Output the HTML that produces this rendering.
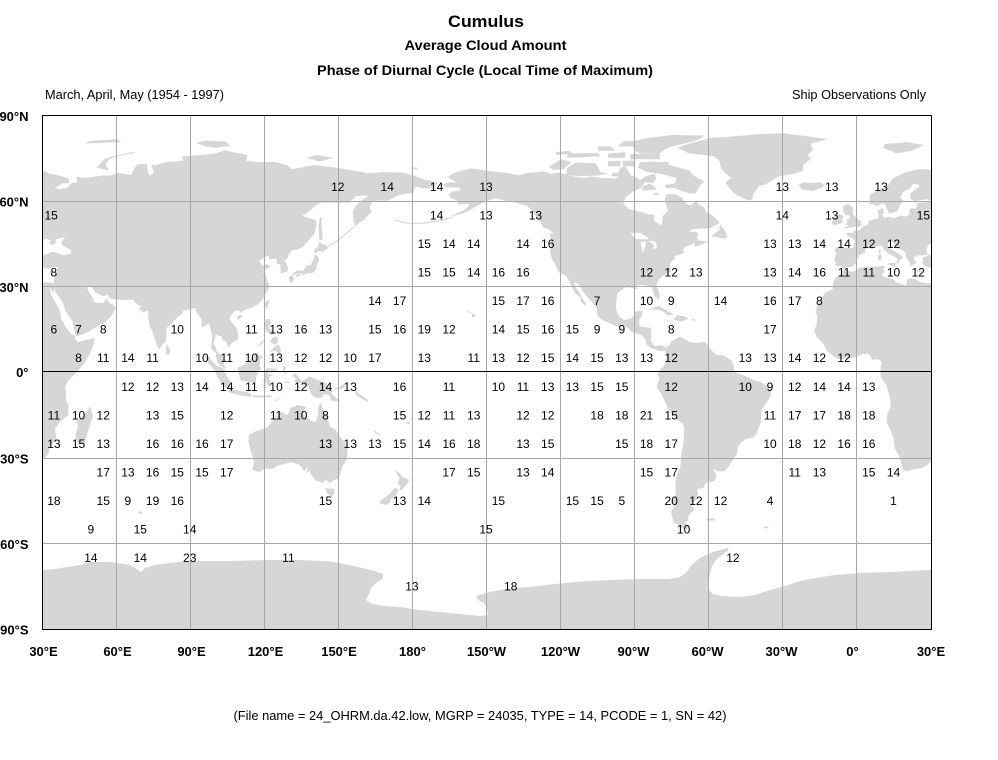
<!DOCTYPE html>
<html><head><meta charset="utf-8"><style>
html,body{margin:0;padding:0;background:#fff;width:998px;height:760px;overflow:hidden}
svg{display:block}
text{font-family:"Liberation Sans",Arial,sans-serif;fill:#000}
.n text{font-size:12px;text-anchor:middle}
.ax{font-size:13px;font-weight:bold}
</style></head><body>
<svg width="998" height="760" viewBox="0 0 998 760" xmlns="http://www.w3.org/2000/svg" xmlns:xlink="http://www.w3.org/1999/xlink">
<rect width="998" height="760" fill="#fff"/>
<defs>
<clipPath id="c"><rect x="42.5" y="115.5" width="889" height="514"/></clipPath>
<g id="land" fill="#d6d6d6">
<g transform="matrix(2.46944 0 0 -2.85556 -31.583 372)">
<!-- Eurasia -->
<polygon points="5,58 5,62 8,63.5 10,64 13,66 14,67.5 16,68.5 19,69.8 21,70.2 25,71 28,71 31,70.3 33,69.4 36,69 40.5,67.8 41,66.2 38,66 35,64.5 37,64 40,64.5 42,66.3 44,66.3 44,68.5 46,68 50,68.3 54,68.8 58,68.8 60,69.8 66,69 67,71 68.5,72.8 72.5,72.8 72.5,71 73.5,68.5 75,70 74,72.5 76,72.5 80.5,73.6 87,74 86.5,75.5 94,76 100,76.5 104,77.7 107,77 113,76 112.5,74 118,73.5 124,73.6 129,72.5 131,71 140,72.5 150,71.5 153,70.9 160,70 161,69.5 168,70 176,69.8 180,68.9 185,67.3 188,66.9 190.3,66 187,64.5 184,64.3 181,65 180,62.5 177,62.5 174,61.8 170,60 166,60 163.5,59.9 163,58.5 162.5,57.5 163.2,56 162,55 160,53 158.5,52.5 156.7,50.9 156,53 155.6,56 156.5,57.8 159,60 162,61.7 160,61.8 157,61.6 154,59.3 151,59.3 148,59.3 143,59.3 141,58.5 138,56.3 135.2,54.7 137.5,54 140.5,53.3 141,52 140.5,50 140,48.3 138.5,46.8 135.5,43.8 133,42.8 131,42.6 129.7,41 129.3,40 128,39 129.4,37 129.3,35.3 127,34.6 126.3,34.7 126.5,36 126.2,37.7 125,37.8 124.7,39.8 122,39.5 121.2,40.9 119.5,39.8 117.8,39 118.5,38 119,37.2 120.8,37.8 122.5,37 120.5,36 119.3,35 120.3,34.3 121,32 121.9,30.9 121.5,29 120.2,27 119.3,25.5 117,23.6 114.3,22.4 111.3,21.5 110,20.8 109.8,21.5 108,21.5 106.6,20.2 105.7,18.8 106.5,17.5 108.8,15.2 109.3,12.5 109,11.3 107,10.4 105.2,8.6 104.8,9.8 104.5,10.4 103,11.2 102.5,12.5 101,12.7 100,13.4 100,12 99.2,10 100.2,8.5 100.5,7.2 101.3,6.8 102.8,5.5 103.4,4 103.5,2.5 104.3,1.4 103.5,1.3 101.3,2.8 100.3,5 100.3,6.5 98.3,8.3 98.5,10 98.7,12.5 97.7,16.5 97,16.9 95.3,15.8 94.2,16.1 94.5,18.3 93.5,19.5 92,21.5 91.8,22.5 90.5,22 89,21.8 87,21.5 86.8,20.5 85,19.5 82.3,17 80.3,15.5 80.2,13 79.8,10.5 79.3,10.3 78,8.9 77.5,8.1 76.5,8.9 75.5,11.5 74.4,14.5 73.5,16 72.8,19 72.8,21 72.6,21.5 70.5,20.8 69,22.4 70.3,22.9 68.6,23.6 67.3,24.5 66.7,25.4 64.5,25.2 61.6,25.2 59,25.5 57.3,25.8 56.5,27.1 54.7,26.5 51.4,27.9 50.3,29.3 49,30.1 48,30 48.5,28.4 49.5,27.1 50.2,26.2 50.8,24.8 51.6,24.2 52.5,24.2 54.5,24.2 55.8,25.4 56.4,26.4 56.3,24.9 57.7,23.8 58.8,23.5 59.8,22.5 58.6,20.8 57.8,19.5 56.8,18.6 55.3,17.4 52.2,16 49,14.2 45,12.8 43.5,12.6 42.7,15.5 42.3,17.5 40.8,19.5 39.2,21.5 38.5,23.8 37.3,25.5 35.2,28 34.9,29.5 34.5,31.5 35,33 35.9,35 36,36.7 34.6,36.8 32.5,36.1 30.5,36.5 29,36.6 27.3,37 26.3,38.3 26.5,39.5 26.2,40 27.5,40.3 29,41 31.3,41.1 33.5,42 35.2,42 38.3,40.9 41.5,41.5 41.7,42.6 40,43.4 38,44.5 37.5,45.3 38.5,46.5 39.3,47.2 37,46.9 35.2,46.3 35.6,45.4 34.5,44.6 33.5,44.5 32.6,45.4 33.5,46 31.7,46.6 30.7,46.5 30,45.2 28.7,44.5 28,43 28,41.9 29,41.2 26.3,40.9 24,40.8 23.5,40.2 22.6,40.5 23.2,39 24,38.2 22.5,37.5 21.6,36.8 21.2,38.3 20.2,39.6 19.4,40.4 19.5,41.8 18.5,42.5 16,43.5 14.5,45.2 13.7,45.7 12.3,45.3 12.4,44.2 13.9,42.8 16,41.9 18.5,40.2 17,39 16.5,38 15.7,38 16.2,39.4 15.6,40.1 14,40.8 12.5,41.5 11,42.5 10.1,43.9 8.7,44.4 7.5,43.8 6,43.1 4.5,43.5 3.1,43 3.2,41.9 0.8,41 0,39.8 -0.4,38.4 -1.6,37.3 -2.1,36.7 -4.4,36.7 -5.6,36 -6.3,36.8 -7.4,37.2 -8.9,37 -8.8,38.7 -9.5,39 -8.7,41.5 -9.3,43 -8,43.7 -5,43.5 -1.8,43.4 -1.3,44.5 -1.2,46 -2.2,47.1 -4.5,47.9 -4.7,48.6 -3,48.8 -1.4,48.7 -1.6,49.6 0.2,49.5 1.5,50.2 2.5,51.1 4,51.5 4.8,53 7,53.5 8.5,53.8 8.6,55 8.1,56.5 9.5,57.1 10.5,57.6 10.3,56.3 10.9,56.2 10,55 11,54 12.5,54.4 14.5,53.9 18,54.8 19.6,54.4 21.2,55.2 21,56.8 22,57.5 23.5,57 24.4,58.4 23.5,59.2 28,59.5 29.5,60 28,60.5 22.9,59.8 21.3,60.9 21.5,62.7 25.2,65 24.5,65.8 22.5,65.8 21.3,64.3 18.5,63 17.3,61 18.8,60 17.4,58.8 16.5,57 15.8,56.1 12.8,55.5 11,58.9 10,59 8,58.1 5.6,58.9"/>
<!-- Africa -->
<polygon points="-5.9,35.8 -2,35.1 1,36.5 3,36.8 8,36.9 10.2,37.2 11,37 10.5,36 11,35.2 10,34.2 10.2,33.5 11.5,33.1 15,32.3 15.5,31.5 18,30.8 19.5,30.3 20.1,31 20,32 21,32.8 23,32.6 25,31.7 29,30.9 31,31.5 32.3,31.3 34.2,31.3 34.9,29.5 34.3,27.8 32.6,29.9 33.5,27 35.5,23.9 37.2,21 37.4,18.5 38.5,17.5 39.5,15.5 41.5,13.5 43.3,12.5 43.2,11.5 44.5,10.4 47,11.1 51.2,11.9 51,10.4 49.5,7 48,4.5 46,2 43.5,-0.5 41.5,-2 40,-3.5 39.2,-5.5 39.5,-7 39.5,-10 40.5,-11.5 40.5,-15 37,-17.5 35,-20 35.5,-22 35.5,-24 33,-25.8 32.5,-28.5 31,-30 28,-32.8 25.5,-33.8 22,-34.2 20,-34.8 18.4,-34.2 18,-32.5 17,-29.5 15.2,-27 14.5,-23 13.5,-20.5 11.8,-17.5 12,-15 13.5,-12 13.2,-9 12.2,-6 12,-5 9.5,-2 9.3,0.5 9.8,3.5 8.5,4.5 6,4.3 4.5,6.3 2,6.3 -1,5 -3,5 -7.5,4.4 -9.5,5.5 -12.5,7.5 -13.5,9.5 -15,11 -16.7,12.5 -17.5,14.7 -16.5,16.5 -16.3,19.5 -17,21 -16,23.5 -14.5,26 -13,27.8 -10,29 -9.8,31.5 -8.5,33.3 -6.8,34.1"/>
<polygon points="49.3,-12 50.5,-15.5 49.8,-17 48.5,-20.5 47.1,-24.9 45,-25.5 43.6,-23.5 43.3,-21.8 44.4,-19.5 44,-17 46.3,-15.7 48,-14"/>
<!-- Europe islands -->
<polygon points="-5.7,50.1 -3,50.6 1.4,51.1 1.7,52.7 0.3,53.5 -1.5,55 -2,55.9 -1.8,57.6 -3.5,58.6 -5,58.6 -6,57.5 -5.6,56 -4.9,55 -3,54.8 -3.3,53.6 -4.6,53.3 -4,52.5 -5,51.7 -3.5,51.4"/>
<polygon points="-6,52.2 -6.1,53.8 -5.6,54.6 -7.2,55.3 -8.5,54.9 -10,54 -10.4,52 -9.5,51.5 -8,51.7"/>
<polygon points="-24,65.5 -22,66.4 -18,66.2 -15,66.5 -13.5,65.5 -14.5,64.4 -18,63.4 -21,63.8 -22.5,64"/>
<polygon points="10.5,78.5 16,76.5 22,77.5 27,79.5 20,80.5 11,79.8"/>
<polygon points="47,80 62,80.5 60,81.5 50,81"/>
<polygon points="52,71.5 57,70.6 55.5,72.5 57,74.5 62,76 68.5,76.8 66,77 59,75.7 55,74.5 53.5,73"/>
<polygon points="96,79 100,78.5 106,79.2 104,80.7 96,81 92,80.3"/>
<polygon points="137,75 142,73.7 148,75 141,76"/>
<polygon points="179,71.3 182,71 181.5,71.6 178.5,71.5"/>
<polygon points="12.4,38.1 15.6,38.3 15.1,36.7 12.5,37.6"/>
<polygon points="8.4,41 9.8,41 9.6,39.2 8.4,39"/>
<polygon points="8.6,43 9.5,42.8 9.3,41.4 8.7,41.6"/>
<polygon points="23.5,35.5 26.3,35.2 24.5,34.9"/>
<polygon points="32.3,35 34.5,35.6 33.5,34.6"/>
<!-- Asia islands -->
<polygon points="79.8,6.1 80.3,9.8 81.8,7.5 81.3,6.2"/>
<polygon points="130.9,34 131.9,34.7 133,35.5 135.8,35.6 136.8,37.2 138.5,37.5 140,39.7 140,41.2 141.5,40.5 142,39 141,37.5 140.8,35.7 139.8,35 138.8,34.6 137,34.6 135.2,33.7 135.2,34.6 133,34.3 131.5,33.9"/>
<polygon points="129.7,33.2 130.2,31.2 131.3,31.4 131.9,33 131,33.9"/>
<polygon points="132.5,33.3 134.8,33.8 134.2,34.3 132.7,34"/>
<polygon points="140,41.5 141,41.8 141.8,42.6 143.3,42 145.5,43.3 145,44.2 142,45.5 141.5,43.5 140.3,43.2"/>
<polygon points="142,46 143.5,46.5 143.2,49.5 143,52 143,54.3 142.3,54.2 141.8,51 142,48"/>
<polygon points="145.5,43.6 150,46 154,49 156.5,50.8 156.3,51.1 153.8,49.4 149.8,46.4 145.3,43.9"/>
<polygon points="172.5,53 178,51.9 184,51.9 190,52.6 196,54 196,54.4 190,53.1 184,52.3 178,52.3 172.5,53.4"/>
<polygon points="120.1,23 120.8,21.9 121.8,24.5 121.5,25.3 120.3,24.3"/>
<polygon points="108.6,19.2 110,20.1 111,19.6 109.5,18.2"/>
<polygon points="120.5,18.5 122.2,18.5 122.4,17 121.5,15.5 124,14 123,13 120.6,14.2 119.8,16.3"/>
<polygon points="122,7 124,7.5 126.2,6.3 126.5,8 125.5,9.7 123.5,8.5"/>
<polygon points="122,10.5 124.5,9.5 125.5,11 125,12.5 123,11.8"/>
<polygon points="117.2,8.4 119.5,10.5 119.3,11.3 117.5,9.2"/>
<polygon points="109,1.5 109.5,-1 110.3,-3 114,-3.5 116.3,-3.9 116.5,-2 117.5,0.5 118.8,1 117.9,2 118.2,4.6 119.2,5.2 117.7,6 116.7,7 115.5,5.3 114,4.5 111.5,2.5 110,1.8"/>
<polygon points="95.3,5.6 97.5,5.2 100.3,2.3 103.8,1 104.5,-1.5 106,-3.2 105.9,-5.8 104.5,-5.9 102.3,-4 100.8,-1.5 98.7,1.7 97.2,3.1"/>
<polygon points="105.2,-6.8 106,-5.9 108.5,-6.3 110.5,-6.8 112.7,-6.9 114.5,-7.8 114.4,-8.7 110,-8.2 106.4,-7.4"/>
<polygon points="115.2,-8.1 119,-8.3 122.8,-8.2 122.8,-8.9 119,-8.9 115.2,-8.8"/>
<polygon points="124,-9.9 127.2,-8.4 126.5,-8.9 124,-10.4"/>
<polygon points="119.4,-5.5 120.4,-5.6 120.4,-2.8 121.3,-4.9 122.8,-4.8 121.6,-1.9 123.4,-0.9 121.3,-0.8 120.6,0.5 124.5,0.5 125.2,1.6 124.3,1.2 120.8,1.3 119.8,0 119.5,-3.5"/>
<polygon points="127.5,2.2 128.7,1.5 128,0.5 128.9,-0.8 127.7,-0.3 127.3,1"/>
<polygon points="128,-3.3 130.8,-3.5 130,-3.9 128.2,-3.8"/>
<polygon points="131,-1.2 132.5,-0.4 135,-3.3 138,-1.6 141,-2.6 144.5,-3.8 146,-5.5 147.5,-6.2 147,-7.5 148.5,-8.8 150.8,-10.3 149,-10.3 147,-10 146,-8 144,-7.7 143,-9 141,-9.1 139,-8.1 137.8,-5.3 134.5,-3.9 132.8,-4 131.9,-2.9 133,-2.3 131.3,-1.5"/>
<polygon points="148.3,-5.6 150,-5.5 152,-4.2 152.3,-5 151,-6.1 148.3,-6"/>
<polygon points="156.5,-6.5 158,-7.5 160.5,-9 161.5,-9.6 162,-10.5 161,-10.2 159,-9.2 157,-8 156.5,-7"/>
<polygon points="164,-20.2 166.5,-21.8 167,-22.4 166.2,-22.3 164.1,-20.7"/>
<polygon points="177.2,-17.5 178.6,-17.3 178.5,-18.2 177.3,-18.1"/>
<polygon points="178.8,-16.3 180,-16.2 179.4,-16.9"/>
<!-- Australia / NZ -->
<polygon points="113.5,-22 114.2,-21.8 116.7,-20.6 119,-20 121,-19.5 122.3,-18 123.5,-17 125.5,-14.5 127,-13.8 128.2,-15 129.6,-14.9 130.2,-13 131.3,-12.1 132.6,-12.1 132.6,-11.5 136,-11.9 136.8,-12.3 135.9,-13.5 135.5,-14.8 137,-15.8 139.2,-17.3 140.6,-17.5 141.5,-15 141.6,-12.6 142.5,-10.7 143.5,-12.8 144.5,-14.3 145.4,-15 146.1,-18.9 148.8,-20.3 150.2,-22.3 153.2,-25.5 153.6,-28.5 153,-31 151.5,-33 150,-37.4 148,-37.8 146.3,-39 144.9,-37.8 143.5,-38.8 140.6,-38 139.7,-37 138.5,-35.6 138.1,-34 137.8,-35 136.8,-35.2 137.8,-33 135.9,-34.8 135,-33.5 134.2,-32.6 131,-31.5 128,-32.2 125,-32.9 123.5,-33.9 120,-33.9 117.9,-35.1 115,-34.3 115.7,-31.5 115,-29.5 114,-26.5 113.4,-24.5"/>
<polygon points="144.6,-40.7 148.3,-40.9 148,-43 146.8,-43.6 145.2,-42.3"/>
<polygon points="172.7,-34.4 174.5,-35.3 175.8,-36.8 178.5,-37.7 177.9,-39.1 176.8,-40 175.2,-41.6 174.6,-41.2 175,-39.9 173.8,-39.2 174.6,-37.3"/>
<polygon points="172.7,-40.5 174.3,-41.2 173.3,-42.8 172.7,-43.8 171.2,-44.5 170.6,-45.9 169,-46.6 166.5,-46 166.7,-45.2 168.5,-44 170.6,-42.7 171.5,-41.6"/>
<polygon points="69,-48.8 70.5,-49 70,-49.7 68.8,-49.6"/>
<!-- North America -->
<polygon points="-168,65.6 -166,66.3 -164,66.6 -161.8,66.1 -163.7,67.1 -166,68.3 -163,69.8 -156.5,71.3 -152,70.8 -149,70.4 -145,70 -141,69.6 -137,68.9 -134,69.6 -130,70 -127.5,70.3 -124,69.4 -121,69.8 -117,69 -114,68.3 -110,68 -108,68.5 -104,68 -98,67.8 -96,68.3 -94,69 -90,68.5 -88,67.2 -86,68.5 -82,69.5 -81.5,67.5 -83,66.2 -86,66.5 -88,64.2 -90.5,63.5 -94,61 -94.8,59 -92.5,57 -88.5,56.3 -85,55.3 -82.3,55.1 -82.2,52.9 -79.5,51.4 -78.8,52.8 -79,54.5 -76.7,56.5 -77.5,58.5 -78,60.5 -77.5,62.2 -74,62.3 -71,61.1 -69.5,59 -67.5,58.3 -65,60.2 -64.5,58.8 -62,57.5 -61,56 -59,55 -57,53.5 -55.7,52.2 -57.5,51.4 -60,50.2 -64,50.2 -66.5,50 -68.5,49.2 -66,49.1 -64.3,48.6 -65,47.5 -64.5,46.2 -61,45.6 -60,46 -61,45.3 -63.5,44.5 -66,43.8 -66,45.2 -67.5,44.5 -70,43.7 -70.7,42.5 -70,41.8 -71.5,41.3 -74,40.6 -74,39.5 -75.5,38.5 -76,37 -75.5,35.3 -77,34.5 -78.8,33.7 -80.5,32.3 -81.4,30.5 -80.6,28.5 -80,26.5 -80.5,25.2 -81.8,26.2 -82.7,27.8 -82.8,29 -84,30 -86,30.4 -88,30.5 -89.6,30.2 -89.2,29 -90.5,29.2 -92,29.6 -94,29.6 -95.5,28.7 -97.3,27.5 -97.5,25.5 -97.8,22.5 -97.2,20.5 -96,19 -94.5,18.2 -92,18.6 -90.5,19.7 -90.3,21 -88,21.5 -87,21.3 -87.5,19.5 -88.3,18.4 -88.3,16.2 -87,15.8 -84,15.5 -83.3,14.8 -83.5,12 -83.8,11 -82.2,9 -79.5,9.5 -77.4,8.6 -77.8,7.5 -80,7.3 -81.5,7.8 -83.6,8.4 -85.7,9.9 -85.7,11.2 -87.6,13 -89.5,13.5 -91.5,14 -93,15.5 -94.7,16.2 -96.5,15.7 -98.5,16.3 -101.5,17.5 -103.5,18.3 -105.3,19.8 -105.5,21.5 -105.8,22.7 -108,25 -109.5,26.5 -111,28 -112.8,30.5 -114.7,31.7 -114.3,30 -112.7,28 -111.5,26 -110,24 -110,23 -112,24.7 -112.2,26.2 -114.5,27.8 -115.5,29.5 -117.1,32.5 -118.5,34 -120.6,34.6 -121.9,36.6 -122.5,37.8 -123.8,39.8 -124.4,42 -124,46 -124.7,48.4 -123,48.5 -125,50 -127.5,50.8 -128,52 -130,54.3 -131,56 -134,58.3 -136.5,58.8 -139.8,59.7 -143,60 -146.5,60.8 -150,59.8 -151.8,59.2 -153.5,58.5 -156.5,56.8 -159.5,55.6 -162.5,54.9 -164.8,54.4 -162.5,55.5 -160,56.4 -158,57.5 -157,58.7 -159,58.8 -161.8,58.7 -162,60 -164.5,60.8 -165.5,62 -164.3,63.2 -161,63.5 -160.8,64.5 -163.5,64.6 -166.2,64.6"/>
<polygon points="-73,78.5 -68,76.5 -62,76 -58,75.5 -56,74 -55,71 -53.5,69.5 -51,68 -53.5,66.5 -51.5,64 -49,62 -44,60 -42.5,60.5 -42,62.5 -40,65 -37,65.8 -32,68.5 -25,69.5 -22,70.5 -22,72.5 -19,74.5 -20,76 -18,78 -19,80 -12,81.5 -20,82.5 -30,83.6 -40,83.3 -50,82.5 -60,82 -62,81.3 -66,80.5 -70,79.5"/>
<polygon points="-62,66.8 -64,65 -65.5,62.5 -68,62.5 -71.5,63.5 -74,64.5 -77.5,64.3 -78,65.5 -74,66 -73,67.8 -77,68.8 -80,69.5 -85,70 -89,71.5 -88,73.5 -82,73.8 -76,72.5 -72,71.5 -68,70.5 -66.5,69 -64,67.5"/>
<polygon points="-118,69 -117.5,71.5 -114,73.3 -106,73.1 -104,70 -101,69.5 -105,68.8 -112,68.6"/>
<polygon points="-125,71.8 -120,74.5 -116,73.5 -119,71 -123,70.8"/>
<polygon points="-80,76.5 -88,76.5 -90,77.5 -92,80.5 -86,81.8 -75,83 -62,82.8 -64,81.4 -70,80 -75,79 -78,78"/>
<polygon points="-80,74.5 -92,74.5 -92,76.3 -80,76.5"/>
<polygon points="-118,75 -104,75.5 -105,76.7 -117,76.5"/>
<polygon points="-101,72 -96,72 -96,74 -101,73.8"/>
<polygon points="-95,72 -90,72 -90,74 -95,74"/>
<polygon points="-97,79 -87,79 -89,81 -95,80.7"/>
<polygon points="-87,63.5 -81,64 -84,66 -87,65"/>
<polygon points="-101,75 -94,75 -94,77 -101,76.5"/>
<polygon points="-100,68.5 -96,68.5 -96,69.8 -99,69.8"/>
<polygon points="-97,68 -91,68 -92.5,70 -94,72 -96,71.5 -97,69.5"/>
<polygon points="-105,77.5 -98,77.5 -100,79 -105,79"/>
<polygon points="-122,76 -115,76.5 -117,77.5 -122,77"/>
<polygon points="-80,72.7 -76,72.6 -77,73.6 -80,73.5"/>
<polygon points="-83,62.2 -80,62.1 -81.5,62.9"/>
<polygon points="-59.3,47.6 -56,49.7 -55.5,51.6 -53.6,49.3 -52.7,47.5 -53.6,46.6 -55.8,47"/>
<polygon points="-84.9,21.9 -80.5,23.1 -76,21 -74.1,20.2 -77.3,19.9 -77.7,20.7 -80.5,21.8"/>
<polygon points="-74.4,18.5 -72.8,19.9 -69.8,19.5 -68.4,18.6 -71.5,17.7 -74.4,18.3"/>
<polygon points="-78.3,18.4 -76.2,18.1 -76.8,17.8 -78.2,18.2"/>
<polygon points="-67.2,18.5 -65.6,18.4 -65.6,18 -67.2,18"/>
<polygon points="-156,20.5 -155,20.2 -154.8,19.5 -155.8,18.9 -156.1,19.7"/>
<polygon points="-158.3,21.6 -157.6,21.3 -156.5,20.9 -156,20.7 -156.6,20.6 -157.8,21.2"/>
<!-- South America -->
<polygon points="-77.5,8.5 -76,9.4 -75.5,10.7 -74.2,11.2 -72,12.4 -70,11.6 -68,10.5 -65,10.1 -62,10.7 -61,9.8 -60,8.5 -58.5,7 -57,6 -54,5.8 -52,4.6 -51,4 -50,1.8 -50,0 -48.5,-0.5 -45,-1.5 -42,-2.8 -39,-3.5 -37,-5 -35.2,-5.5 -35,-8 -37,-11 -38.9,-13.5 -39,-17.5 -40.8,-21.5 -42,-23 -44.5,-23.3 -47,-24.5 -48.5,-26.5 -48.7,-28.5 -50.5,-31 -52.5,-33.5 -54,-34.8 -56.5,-34.8 -58.4,-34 -57.2,-35.8 -57.5,-38 -61.5,-39 -62.2,-40.5 -65,-41 -64.5,-42.5 -65.5,-45 -67.5,-46.5 -66,-48 -68.5,-50.5 -68.4,-52.3 -70,-52.5 -68.5,-53.5 -68,-54.8 -70,-55 -72,-54 -74.5,-52.5 -75.5,-49 -74,-47 -75.5,-46 -73.5,-43 -73.7,-40.5 -73.5,-37 -71.7,-33 -71.4,-29.5 -70.5,-25 -70.2,-20 -70.5,-18.3 -72.5,-17 -75.5,-14.5 -76.5,-13 -79.5,-7.5 -81.2,-5.5 -81,-4 -80.1,-2.5 -80.9,-1 -80,0.8 -78.8,1.6 -77.5,3.5 -77.3,5.5 -77.9,7.3"/>
<polygon points="-61.2,-51.3 -57.8,-51.3 -57.8,-52 -61.2,-52"/>
<polygon points="-38,-54 -36,-54.2 -36.2,-54.8 -37.8,-54.6"/>
</g>
<g fill="#fff" transform="matrix(2.46944 0 0 -2.85556 -31.583 372)">
<polygon points="-92,48.7 -88,48.8 -85,47.2 -84.5,46.5 -87,46.5 -90,46.6"/>
<polygon points="-87.8,45.5 -87,41.8 -86.2,43 -85.5,45.8 -83,46 -81.5,45.3 -81.2,43.5 -82.5,43 -82.5,44.8 -84.5,45.8"/>
</g>
</g>
</defs>
<g clip-path="url(#c)">
<use xlink:href="#land"/>
<use xlink:href="#land" transform="translate(889,0)"/>
<path fill="#d6d6d6" d="M42,570 L55,569 L67,567 L80,565 L90,562 L110,562 L117,563 L130,565 L137,569 L141,572 L145,568 L155,565 L170,563 L190,561 L230,561 L270,560 L300,560 L330,561.5 L345,564 L360,567.5 L375,571 L383,574 L383,578 L376,583 L371,588 L369,594 L366,600 L372,604 L385,606 L400,607 L420,610 L440,612 L460,614 L480,616 L488,615 L487,608 L484,603 L478,600 L476,596 L483,594 L490,592 L500,590 L515,588 L530,587 L555,584 L575,582 L590,581 L612,580 L640,579 L669,579 L680,577 L686,573 L690,567 L695,562 L700,558 L706,555 L713,552 L720,550 L727,548 L729,550 L722,555 L716,560 L712,566 L710,573 L709,582 L709,590 L713,594 L722,596 L740,597 L755,595 L770,590 L785,586 L800,581 L815,578 L835,575 L860,573 L890,572 L910,571 L932,570 L932,630 L42,630 Z"/>
</g>
<g stroke="#a8a8a8" stroke-width="1" fill="none">
<path d="M116.5,115V629M190.5,115V629M264.5,115V629M338.5,115V629M412.5,115V629M486.5,115V629M560.5,115V629M634.5,115V629M708.5,115V629M782.5,115V629M856.5,115V629"/>
<path d="M42,201.5H931M42,286.5H931M42,458.5H931M42,543.5H931"/>
</g>
<path d="M42,371.5H931" stroke="#000" stroke-width="1"/>
<rect x="42.5" y="115.5" width="889" height="514" fill="none" stroke="#000" stroke-width="1"/>

<text x="486" y="27" font-size="17" font-weight="bold" text-anchor="middle" textLength="76" lengthAdjust="spacingAndGlyphs">Cumulus</text>
<text x="485.5" y="50" font-size="14" font-weight="bold" text-anchor="middle" textLength="162" lengthAdjust="spacingAndGlyphs">Average Cloud Amount</text>
<text x="485" y="75" font-size="14" font-weight="bold" text-anchor="middle" textLength="336" lengthAdjust="spacingAndGlyphs">Phase of Diurnal Cycle (Local Time of Maximum)</text>
<text x="45" y="99" font-size="12.5" textLength="179" lengthAdjust="spacingAndGlyphs">March, April, May (1954 - 1997)</text>
<text x="926" y="99" font-size="12.5" text-anchor="end" textLength="134" lengthAdjust="spacingAndGlyphs">Ship Observations Only</text>
<text x="480" y="720" font-size="12.5" text-anchor="middle" textLength="493" lengthAdjust="spacingAndGlyphs">(File name = 24_OHRM.da.42.low, MGRP = 24035, TYPE = 14, PCODE = 1, SN = 42)</text>

<g class="ax" text-anchor="end">
<text x="28.5" y="121">90°N</text>
<text x="28.5" y="206.5">60°N</text>
<text x="28.5" y="292">30°N</text>
<text x="28.5" y="377">0°</text>
<text x="28.5" y="463.5">30°S</text>
<text x="28.5" y="549">60°S</text>
<text x="28.5" y="634.5">90°S</text>
</g>
<g class="ax" text-anchor="middle">
<text x="43.5" y="656">30°E</text>
<text x="117.5" y="656">60°E</text>
<text x="191.5" y="656">90°E</text>
<text x="265.5" y="656">120°E</text>
<text x="339" y="656">150°E</text>
<text x="412.5" y="656">180°</text>
<text x="486.5" y="656">150°W</text>
<text x="560.5" y="656">120°W</text>
<text x="633.5" y="656">90°W</text>
<text x="707.5" y="656">60°W</text>
<text x="781.5" y="656">30°W</text>
<text x="852.5" y="656">0°</text>
<text x="931" y="656">30°E</text>
</g>

<g class="n">
<text x="337.8" y="190.9">12</text><text x="387.2" y="190.9">14</text><text x="436.6" y="190.9">14</text><text x="486" y="190.9">13</text><text x="782.3" y="190.9">13</text><text x="831.7" y="190.9">13</text><text x="881.1" y="190.9">13</text>

<text x="44.5" y="219.4" style="text-anchor:start">15</text><text x="930" y="219.4" style="text-anchor:end">15</text><text x="436.6" y="219.4">14</text><text x="486" y="219.4">13</text><text x="535.4" y="219.4">13</text><text x="782.3" y="219.4">14</text><text x="831.7" y="219.4">13</text>

<text x="424.3" y="248">15</text><text x="449" y="248">14</text><text x="473.7" y="248">14</text><text x="523" y="248">14</text><text x="547.7" y="248">16</text><text x="770" y="248">13</text><text x="794.7" y="248">13</text><text x="819.4" y="248">14</text><text x="844.1" y="248">14</text><text x="868.8" y="248">12</text><text x="893.5" y="248">12</text>

<text x="53.9" y="276.6">8</text><text x="424.3" y="276.6">15</text><text x="449" y="276.6">15</text><text x="473.7" y="276.6">14</text><text x="498.4" y="276.6">16</text><text x="523" y="276.6">16</text><text x="646.5" y="276.6">12</text><text x="671.2" y="276.6">12</text><text x="695.9" y="276.6">13</text><text x="770" y="276.6">13</text><text x="794.7" y="276.6">14</text><text x="819.4" y="276.6">16</text><text x="844.1" y="276.6">11</text><text x="868.8" y="276.6">11</text><text x="893.5" y="276.6">10</text><text x="918.2" y="276.6">12</text>

<text x="374.9" y="305.1">14</text><text x="399.6" y="305.1">17</text><text x="498.4" y="305.1">15</text><text x="523" y="305.1">17</text><text x="547.7" y="305.1">16</text><text x="597.1" y="305.1">7</text><text x="646.5" y="305.1">10</text><text x="671.2" y="305.1">9</text><text x="720.6" y="305.1">14</text><text x="770" y="305.1">16</text><text x="794.7" y="305.1">17</text><text x="819.4" y="305.1">8</text>

<text x="53.9" y="333.7">6</text><text x="78.5" y="333.7">7</text><text x="103.2" y="333.7">8</text><text x="177.3" y="333.7">10</text><text x="251.4" y="333.7">11</text><text x="276.1" y="333.7">13</text><text x="300.8" y="333.7">16</text><text x="325.5" y="333.7">13</text><text x="374.9" y="333.7">15</text><text x="399.6" y="333.7">16</text><text x="424.3" y="333.7">19</text><text x="449" y="333.7">12</text><text x="498.4" y="333.7">14</text><text x="523" y="333.7">15</text><text x="547.7" y="333.7">16</text><text x="572.4" y="333.7">15</text><text x="597.1" y="333.7">9</text><text x="621.8" y="333.7">9</text><text x="671.2" y="333.7">8</text><text x="770" y="333.7">17</text>

<text x="78.5" y="362.2">8</text><text x="103.2" y="362.2">11</text><text x="127.9" y="362.2">14</text><text x="152.6" y="362.2">11</text><text x="202" y="362.2">10</text><text x="226.7" y="362.2">11</text><text x="251.4" y="362.2">10</text><text x="276.1" y="362.2">13</text><text x="300.8" y="362.2">12</text><text x="325.5" y="362.2">12</text><text x="350.2" y="362.2">10</text><text x="374.9" y="362.2">17</text><text x="424.3" y="362.2">13</text><text x="473.7" y="362.2">11</text><text x="498.4" y="362.2">13</text><text x="523" y="362.2">12</text><text x="547.7" y="362.2">15</text><text x="572.4" y="362.2">14</text><text x="597.1" y="362.2">15</text><text x="621.8" y="362.2">13</text><text x="646.5" y="362.2">13</text><text x="671.2" y="362.2">12</text><text x="745.3" y="362.2">13</text><text x="770" y="362.2">13</text><text x="794.7" y="362.2">14</text><text x="819.4" y="362.2">12</text><text x="844.1" y="362.2">12</text>

<text x="127.9" y="390.8">12</text><text x="152.6" y="390.8">12</text><text x="177.3" y="390.8">13</text><text x="202" y="390.8">14</text><text x="226.7" y="390.8">14</text><text x="251.4" y="390.8">11</text><text x="276.1" y="390.8">10</text><text x="300.8" y="390.8">12</text><text x="325.5" y="390.8">14</text><text x="350.2" y="390.8">13</text><text x="399.6" y="390.8">16</text><text x="449" y="390.8">11</text><text x="498.4" y="390.8">10</text><text x="523" y="390.8">11</text><text x="547.7" y="390.8">13</text><text x="572.4" y="390.8">13</text><text x="597.1" y="390.8">15</text><text x="621.8" y="390.8">15</text><text x="671.2" y="390.8">12</text><text x="745.3" y="390.8">10</text><text x="770" y="390.8">9</text><text x="794.7" y="390.8">12</text><text x="819.4" y="390.8">14</text><text x="844.1" y="390.8">14</text><text x="868.8" y="390.8">13</text>

<text x="53.9" y="419.3">11</text><text x="78.5" y="419.3">10</text><text x="103.2" y="419.3">12</text><text x="152.6" y="419.3">13</text><text x="177.3" y="419.3">15</text><text x="226.7" y="419.3">12</text><text x="276.1" y="419.3">11</text><text x="300.8" y="419.3">10</text><text x="325.5" y="419.3">8</text><text x="399.6" y="419.3">15</text><text x="424.3" y="419.3">12</text><text x="449" y="419.3">11</text><text x="473.7" y="419.3">13</text><text x="523" y="419.3">12</text><text x="547.7" y="419.3">12</text><text x="597.1" y="419.3">18</text><text x="621.8" y="419.3">18</text><text x="646.5" y="419.3">21</text><text x="671.2" y="419.3">15</text><text x="770" y="419.3">11</text><text x="794.7" y="419.3">17</text><text x="819.4" y="419.3">17</text><text x="844.1" y="419.3">18</text><text x="868.8" y="419.3">18</text>

<text x="53.9" y="447.9">13</text><text x="78.5" y="447.9">15</text><text x="103.2" y="447.9">13</text><text x="152.6" y="447.9">16</text><text x="177.3" y="447.9">16</text><text x="202" y="447.9">16</text><text x="226.7" y="447.9">17</text><text x="325.5" y="447.9">13</text><text x="350.2" y="447.9">13</text><text x="374.9" y="447.9">13</text><text x="399.6" y="447.9">15</text><text x="424.3" y="447.9">14</text><text x="449" y="447.9">16</text><text x="473.7" y="447.9">18</text><text x="523" y="447.9">13</text><text x="547.7" y="447.9">15</text><text x="621.8" y="447.9">15</text><text x="646.5" y="447.9">18</text><text x="671.2" y="447.9">17</text><text x="770" y="447.9">10</text><text x="794.7" y="447.9">18</text><text x="819.4" y="447.9">12</text><text x="844.1" y="447.9">16</text><text x="868.8" y="447.9">16</text>

<text x="103.2" y="476.4">17</text><text x="127.9" y="476.4">13</text><text x="152.6" y="476.4">16</text><text x="177.3" y="476.4">15</text><text x="202" y="476.4">15</text><text x="226.7" y="476.4">17</text><text x="449" y="476.4">17</text><text x="473.7" y="476.4">15</text><text x="523" y="476.4">13</text><text x="547.7" y="476.4">14</text><text x="646.5" y="476.4">15</text><text x="671.2" y="476.4">17</text><text x="794.7" y="476.4">11</text><text x="819.4" y="476.4">13</text><text x="868.8" y="476.4">15</text><text x="893.5" y="476.4">14</text>

<text x="53.9" y="505">18</text><text x="103.2" y="505">15</text><text x="127.9" y="505">9</text><text x="152.6" y="505">19</text><text x="177.3" y="505">16</text><text x="325.5" y="505">15</text><text x="399.6" y="505">13</text><text x="424.3" y="505">14</text><text x="498.4" y="505">15</text><text x="572.4" y="505">15</text><text x="597.1" y="505">15</text><text x="621.8" y="505">5</text><text x="671.2" y="505">20</text><text x="695.9" y="505">12</text><text x="720.6" y="505">12</text><text x="770" y="505">4</text><text x="893.5" y="505">1</text>

<text x="90.9" y="533.6">9</text><text x="140.3" y="533.6">15</text><text x="189.7" y="533.6">14</text><text x="486" y="533.6">15</text><text x="683.6" y="533.6">10</text>

<text x="90.9" y="562.1">14</text><text x="140.3" y="562.1">14</text><text x="189.7" y="562.1">23</text><text x="288.4" y="562.1">11</text><text x="732.9" y="562.1">12</text>

<text x="411.9" y="590.7">13</text><text x="510.7" y="590.7">18</text>
</g>
</svg>
</body></html>
